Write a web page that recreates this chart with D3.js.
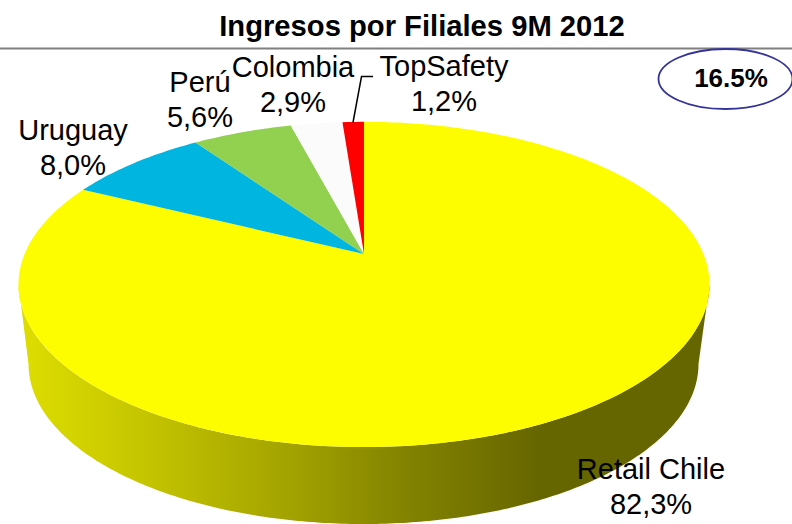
<!DOCTYPE html>
<html><head><meta charset="utf-8">
<script src="https://cdn.jsdelivr.net/npm/d3@7"></script>
<style>html,body{margin:0;padding:0;background:#fff}svg{display:block}text{font-family:"Liberation Sans",Arial,sans-serif;fill:#000}</style>
</head><body><div id="c"></div>
<script>
// Data
const categories = ["Retail Chile","Uruguay","Perú","Colombia","TopSafety"];
const shares = [82.3,8.0,5.6,2.9,1.2];
const shareLabels = ["82,3%","8,0%","5,6%","2,9%","1,2%"];
const title = "Ingresos por Filiales 9M 2012";
const badge = "16.5%";

// Style / layout
const colors = ["#fdfd00","#00b5e0","#92d050","#fbfbfb","#ff0000"];
const labelCenters = [[651,479],[73,140],[200,92],[293,77],[444,76]];
const W=792,H=524;
const svg=d3.select("#c").append("svg").attr("width",W).attr("height",H);
const defs=svg.append("defs");
defs.append("clipPath").attr("id","page").append("rect").attr("width",W).attr("height",H);

// Wall shading
const shade=d3.scaleLinear().domain([30,130,300,400,540,700]).range(["#dcdc00","#c8c800","#a0a000","#848400","#666600","#666600"]);
const grad=defs.append("linearGradient").attr("id","wall").attr("gradientUnits","userSpaceOnUse")
  .attr("x1",30).attr("x2",700).attr("y1",0).attr("y2",0);
shade.domain().forEach(d=>grad.append("stop").attr("offset",(d-30)/670).attr("stop-color",shade(d)));

// Perspective projection of the pie disc (angle clockwise from the back)
const cx=364,apexY=254,k=0.1873,A=156.9,B=339.4;
const project=a=>{
  const u=Math.sin(a),v=-Math.cos(a),den=1-k*v;
  return [cx+B*u/den,apexY+A*v/den];
};
// Lower rim of the wall
const rim={cx:363.5,cy:364,rx:335,ry:160};
const line=d3.line();
const sweep=(a0,a1)=>d3.range(0,1.0001,1/Math.max(2,Math.ceil(Math.abs(a1-a0)*60))).map(t=>a0+(a1-a0)*t);

// Wall: between the widest points of the top rim, down to the lower rim
const rimPts=d3.range(0,1.0001,1/240).map(t=>{
  const a=Math.PI*t;
  return [rim.cx+rim.rx*Math.cos(a),rim.cy+rim.ry*Math.sin(a)];
});
const amax=Math.acos(-k);
const topFront=sweep(amax,2*Math.PI-amax).map(project).reverse();
svg.append("path").attr("clip-path","url(#page)")
  .attr("d",line([...topFront,...rimPts])+"Z")
  .attr("fill","url(#wall)");

// Slices: Retail Chile starts at 12 o'clock and runs clockwise
const pie=d3.pie().sort(null)(shares);
const slices=svg.append("g");
pie.forEach((s,i)=>{
  slices.append("path")
    .attr("d",line([[cx,apexY],...sweep(s.startAngle,s.endAngle).map(project)])+"Z")
    .attr("fill",colors[i]);
});

// Rule and title
svg.append("line").attr("x1",0).attr("x2",W).attr("y1",48.5).attr("y2",48.5).attr("stroke","#808080").attr("stroke-width",2);
svg.append("text").attr("x",422).attr("y",36).attr("text-anchor","middle").attr("font-weight","bold").attr("font-size",29.2).text(title);

// Leader line for TopSafety
svg.append("path").attr("d",line([[353,122.5],[361.5,76.5],[373,76.5]])).attr("fill","none").attr("stroke","#000").attr("stroke-width",1.5);

// Labels
categories.forEach((c,i)=>{
  const [x,y]=labelCenters[i];
  const t=svg.append("text").attr("text-anchor","middle").attr("font-size",29);
  t.append("tspan").attr("x",x).attr("y",y).text(c);
  t.append("tspan").attr("x",x).attr("y",y+35).text(shareLabels[i]);
});

// Badge
svg.append("ellipse").attr("cx",725.5).attr("cy",79).attr("rx",67).attr("ry",30).attr("fill","none").attr("stroke","#333399").attr("stroke-width",1.8);
svg.append("text").attr("x",731).attr("y",86.5).attr("text-anchor","middle").attr("font-weight","bold").attr("font-size",26).text(badge);
</script>
</body></html>
